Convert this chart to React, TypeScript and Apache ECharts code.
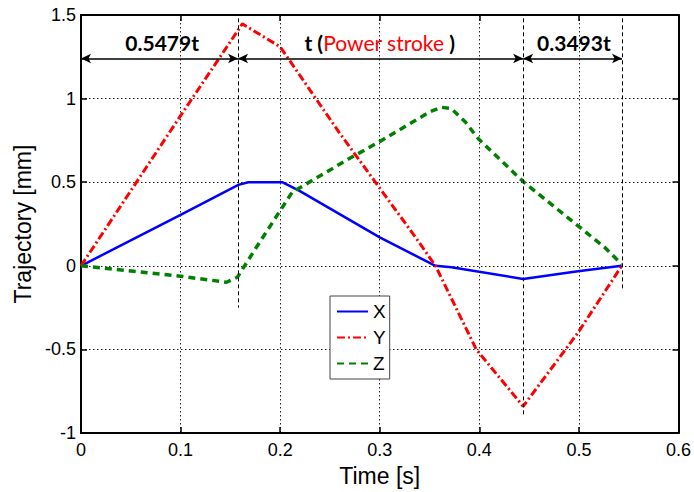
import React, { useEffect, useRef } from "react";
import * as echarts from "echarts";

const xTicks = [0, 0.1, 0.2, 0.3, 0.4, 0.5, 0.6];
const yTicks = [-1, -0.5, 0, 0.5, 1, 1.5];

const seriesX: [number, number][] = [
  [0, 0], [0.1, 0.305], [0.158, 0.484], [0.168, 0.5], [0.202, 0.5], [0.219, 0.45],
  [0.3, 0.17], [0.356, 0], [0.372, -0.008], [0.444, -0.078], [0.499, -0.032], [0.543, 0],
];
const seriesY: [number, number][] = [
  [0, 0], [0.1, 0.898], [0.162, 1.447], [0.2, 1.31], [0.259, 0.8], [0.336, 0.17],
  [0.356, 0], [0.397, -0.5], [0.444, -0.84], [0.499, -0.4], [0.543, 0],
];
const seriesZ: [number, number][] = [
  [0, 0], [0.1, -0.062], [0.146, -0.098], [0.157, -0.068], [0.176, 0.11], [0.2, 0.33],
  [0.212, 0.44], [0.269, 0.64], [0.299, 0.74], [0.35, 0.92], [0.362, 0.948],
  [0.372, 0.94], [0.386, 0.86], [0.399, 0.76], [0.444, 0.504], [0.526, 0.11], [0.543, 0.01],
];

// phase boundaries (time) and annotation values
const phaseT = [0, 0.1577, 0.444, 0.5433];
const vLineTop = 1.48;
const vLineBottoms = [-0.25, -0.9, -0.14];
const arrowY = 1.24;
const labelY = 1.334;
const phaseLabels = ["0.5479t", "{b|t (}{r|Power stroke}{b| )}", "0.3493t"];
const phaseLabelT = [0.0815, 0.3, 0.495];

const FONT = "Liberation Sans, Arial, sans-serif";
const AFONT = "Lato, Open Sans, sans-serif";

export default function App() {
  const ref = useRef<HTMLDivElement>(null);
  useEffect(() => {
    if (!ref.current) return;
    const chart = echarts.init(ref.current, undefined, { renderer: "svg" });
    const tickStyle = { inside: true, length: 6, lineStyle: { color: "#000", width: 1.5 } };
    const axisLine = { show: true, onZero: false, lineStyle: { color: "#000", width: 2 } };
    const split = { show: true, lineStyle: { color: "#222", width: 1, type: [1.5, 2.5] } };
    const option: any = {
      animation: false,
      backgroundColor: "#fff",
      grid: { left: 81, right: 13, top: 15, bottom: 54.5, containLabel: false },
      legend: {
        data: ["X", "Y", "Z"],
        orient: "vertical",
        left: 330,
        top: 296,
        itemWidth: 31,
        itemHeight: 14,
        itemGap: 7,
        padding: [6, 4, 6, 6],
        borderColor: "#444",
        borderWidth: 1,
        backgroundColor: "#fff",
        itemStyle: { color: "rgba(0,0,0,0)", borderWidth: 0, opacity: 0 },
        textStyle: { fontSize: 19, fontFamily: FONT, color: "#000" },
      },
      xAxis: [
        {
          type: "value", min: xTicks[0], max: xTicks[xTicks.length - 1], interval: 0.1,
          position: "bottom", axisLine, axisTick: tickStyle, splitLine: split,
          axisLabel: { fontSize: 18, fontFamily: FONT, color: "#000", margin: 8 },
          name: "Time [s]", nameLocation: "middle", nameGap: 30,
          nameTextStyle: { fontSize: 23, fontFamily: FONT, color: "#000" },
        },
        {
          type: "value", min: xTicks[0], max: xTicks[xTicks.length - 1], interval: 0.1,
          position: "top", axisLine, axisTick: tickStyle, splitLine: { show: false },
          axisLabel: { show: false },
        },
      ],
      yAxis: [
        {
          type: "value", min: yTicks[0], max: yTicks[yTicks.length - 1], interval: 0.5,
          position: "left", axisLine, axisTick: tickStyle, splitLine: split,
          axisLabel: { fontSize: 18, fontFamily: FONT, color: "#000", margin: 5 },
          name: "Trajectory [mm]", nameLocation: "middle", nameGap: 47,
          nameTextStyle: { fontSize: 23, fontFamily: FONT, color: "#000" },
        },
        {
          type: "value", min: yTicks[0], max: yTicks[yTicks.length - 1], interval: 0.5,
          position: "right", axisLine, axisTick: tickStyle, splitLine: { show: false },
          axisLabel: { show: false },
        },
      ],
      series: [
        {
          name: "X", type: "line", data: seriesX, symbol: "none",
          lineStyle: { color: "#0000ff", width: 2.5 }, itemStyle: { color: "#0000ff" },
        },
        {
          name: "Y", type: "line", data: seriesY, symbol: "none",
          lineStyle: { color: "#ff0000", width: 3, type: [8, 3, 2, 3] }, itemStyle: { color: "#ff0000" },
        },
        {
          name: "Z", type: "line", data: seriesZ, symbol: "none",
          lineStyle: { color: "#008000", width: 3.5, type: [7, 5] }, itemStyle: { color: "#008000" },
        },
        {
          name: "annot", type: "line", data: [], symbol: "none", silent: true,
          markLine: {
            silent: true, animation: false,
            label: { show: false },
            symbol: ["none", "none"],
            lineStyle: { color: "#000", width: 1, type: [4, 3] },
            emphasis: { disabled: true },
            data: phaseT.slice(1).map((t, i) => [
              { coord: [t, vLineTop] },
              { coord: [t, vLineBottoms[i]] },
            ]),
          },
          markPoint: {
            silent: true, animation: false,
            symbol: "circle", symbolSize: 1,
            itemStyle: { color: "rgba(0,0,0,0)" },
            label: {
              show: true, position: "inside", fontSize: 21, fontFamily: AFONT,
              fontWeight: "bold", color: "#000",
              rich: {
                b: { fontSize: 21, fontFamily: AFONT, fontWeight: "bold", color: "#000" },
                r: { fontSize: 21, fontFamily: AFONT, fontWeight: "normal", color: "#ff0000" },
              },
            },
            data: phaseLabels.map((s, i) => ({
              coord: [phaseLabelT[i], labelY],
              label: { formatter: s },
            })),
          },
        },
        {
          name: "arrows", type: "line", data: [], symbol: "none", silent: true,
          markLine: {
            silent: true, animation: false,
            label: { show: false },
            symbol: ["arrow", "arrow"],
            symbolSize: [7, 10],
            lineStyle: { color: "#000", width: 1.5, type: "solid" },
            itemStyle: { color: "#000" },
            emphasis: { disabled: true },
            data: phaseT.slice(0, -1).map((t, i) => [
              { coord: [t, arrowY] },
              { coord: [phaseT[i + 1], arrowY] },
            ]),
          },
        },
      ],
    };
    chart.setOption(option);
    return () => chart.dispose();
  }, []);
  return (
    <div
      ref={ref}
      style={{ position: "fixed", left: 0, top: 0, width: 694, height: 492 }}
    />
  );
}
